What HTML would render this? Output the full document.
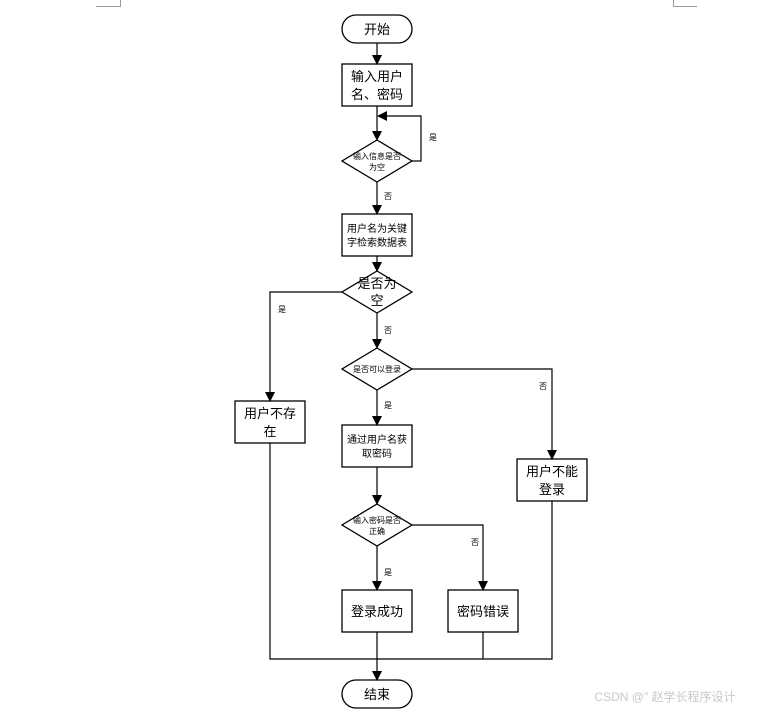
<!DOCTYPE html>
<html><head><meta charset="utf-8"><style>
body{margin:0;background:#fff;}
svg{display:block;}
text{font-family:"Liberation Sans","Noto Sans CJK SC",sans-serif;fill:#000;text-anchor:middle;}
</style></head><body>
<svg width="757" height="711" viewBox="0 0 757 711" xmlns="http://www.w3.org/2000/svg">
<defs><marker id="a" markerWidth="10" markerHeight="10" refX="9" refY="5" orient="auto" markerUnits="userSpaceOnUse"><path d="M0,0 L10,5 L0,10 z" fill="#000"/></marker></defs>
<g stroke="#999" stroke-width="1" fill="none">
<path d="M96,6.5 H120.5 V0"/><path d="M673.5,0 V6.5 H697"/>
</g>
<g stroke="#000" stroke-width="1.3" fill="#fff">
<rect x="342" y="15" width="70" height="28" rx="14"/>
<rect x="342" y="64" width="70" height="42"/>
<polygon points="377,140 412,161 377,182 342,161"/>
<rect x="342" y="214" width="70" height="42"/>
<polygon points="377,271 412,292 377,313 342,292"/>
<polygon points="377,348 412,369 377,390 342,369"/>
<rect x="235" y="401" width="70" height="42"/>
<rect x="342" y="425" width="70" height="42"/>
<rect x="517" y="459" width="70" height="42"/>
<polygon points="377,504 412,525 377,546 342,525"/>
<rect x="342" y="590" width="70" height="42"/>
<rect x="448" y="590" width="70" height="42"/>
<rect x="342" y="680" width="70" height="28" rx="14"/>
</g>
<g stroke="#000" stroke-width="1.2" fill="none" marker-end="url(#a)">
<path d="M377,43 V64"/>
<path d="M377,106 V140"/>
<path d="M412,161 H421 V116 H378"/>
<path d="M377,182 V214"/>
<path d="M377,256 V271"/>
<path d="M342,292 H270 V401"/>
<path d="M377,313 V348"/>
<path d="M412,369 H552 V459"/>
<path d="M377,390 V425"/>
<path d="M377,467 V504"/>
<path d="M412,525 H483 V590"/>
<path d="M377,546 V590"/>
<path d="M377,632 V680"/>
</g>
<g stroke="#000" stroke-width="1.2" fill="none">
<path d="M270,443 V659 H552 V501"/>
<path d="M483,632 V659"/>
</g>
<text x="377" y="34" font-size="13">开始</text>
<text x="377" y="81" font-size="13">输入用户</text>
<text x="377" y="99" font-size="13">名、密码</text>
<text x="377" y="159" font-size="8">输入信息是否</text>
<text x="377" y="170" font-size="8">为空</text>
<text x="377" y="232" font-size="10">用户名为关键</text>
<text x="377" y="246" font-size="10">字检索数据表</text>
<text x="377" y="288" font-size="13">是否为</text>
<text x="377" y="305" font-size="13">空</text>
<text x="377" y="372" font-size="8">是否可以登录</text>
<text x="270" y="418" font-size="13">用户不存</text>
<text x="270" y="436" font-size="13">在</text>
<text x="377" y="443" font-size="10">通过用户名获</text>
<text x="377" y="457" font-size="10">取密码</text>
<text x="552" y="476" font-size="13">用户不能</text>
<text x="552" y="494" font-size="13">登录</text>
<text x="377" y="523" font-size="8">输入密码是否</text>
<text x="377" y="534" font-size="8">正确</text>
<text x="377" y="616" font-size="13">登录成功</text>
<text x="483" y="616" font-size="13">密码错误</text>
<text x="377" y="699" font-size="13">结束</text>
<g font-size="8">
<text x="433" y="140">是</text>
<text x="388" y="199">否</text>
<text x="282" y="312">是</text>
<text x="388" y="333">否</text>
<text x="543" y="389">否</text>
<text x="388" y="408">是</text>
<text x="475" y="545">否</text>
<text x="388" y="575">是</text>
</g>
<text x="665" y="701" font-size="12" style="fill:#c8c8c8">CSDN @" 赵学长程序设计</text>
</svg>
</body></html>
